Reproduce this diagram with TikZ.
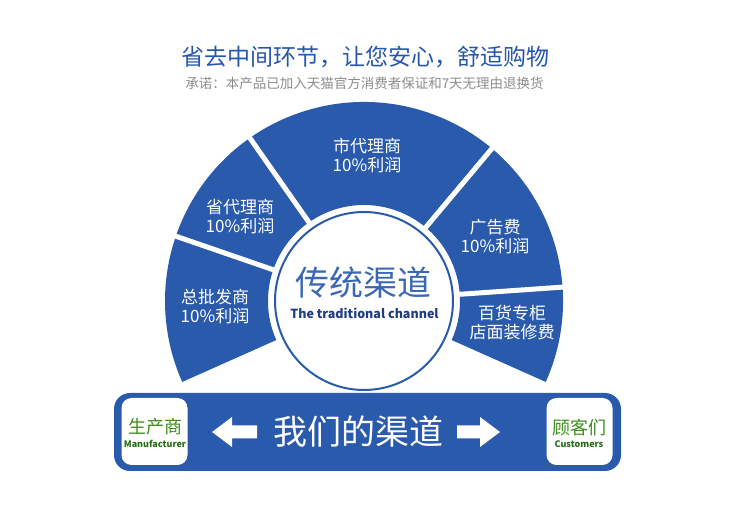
\documentclass[tikz,border=0pt]{standalone}
\usepackage{fontspec}
\setmainfont{Noto Sans CJK SC}
\usetikzlibrary{calc}
\definecolor{segblue}{RGB}{42,90,172}
\definecolor{titleblue}{RGB}{36,86,176}
\definecolor{circblue}{RGB}{58,104,180}
\definecolor{engblue}{RGB}{30,60,135}
\definecolor{subgray}{RGB}{140,140,140}
\definecolor{cngreen}{RGB}{62,140,28}
\definecolor{engreen}{RGB}{40,110,20}
\begin{document}
\begin{tikzpicture}[x=1pt,y=1pt,line cap=round,line join=round,
  segtext/.style={white,align=center,font=\fontsize{17}{19}\selectfont},
  boxcn/.style={cngreen,font=\fontsize{18}{18}\selectfont},
  boxen/.style={engreen,font=\fontsize{9}{9}\selectfont\bfseries},
  endbox/.style={fill=white,rounded corners=10,minimum width=66,minimum height=67,inner sep=0}]
  \useasboundingbox (0,0) rectangle (750,517);
  \coordinate (C) at (364,216);
  \node[titleblue,font=\fontsize{23}{23}\selectfont] (title) at (365,460) {省去中间环节，让您安心，舒适购物};
  \node[subgray,font=\fontsize{13.5}{13.5}\selectfont] (sub) at (364.5,434) {承诺：本产品已加入天猫官方消费者保证和7天无理由退换货};
  \fill[segblue] (C) ++(-24:199) arc (-24:204:199) -- ($(C)+(204:96)$) arc (204:-24:96) -- cycle;
  \foreach \a in {4,50,125,161}
    \draw[white,line width=5,line cap=butt] (C) -- ++(\a:210);
  \node[draw=segblue,line width=2,fill=white,circle,minimum size=178,inner sep=0] (ring) at (C) {};
  \node[circblue,font=\fontsize{34}{34}\selectfont] (tradcn) at (363,234) {传统渠道};
  \node[engblue,font=\fontsize{12.5}{12.5}\selectfont\bfseries] (traden) at (364.5,204) {The traditional channel};
  \node[segtext] (city) at (367,362) {市代理商\\10\%利润};
  \node[segtext] (prov) at (240,300) {省代理商\\10\%利润};
  \node[segtext] (whole) at (215,210) {总批发商\\10\%利润};
  \node[segtext] (adv) at (495,280) {广告费\\10\%利润};
  \node[segtext] (shop) at (512,194) {百货专柜\\店面装修费};
  \node[fill=segblue,rounded corners=16,minimum width=507,minimum height=78,inner sep=0] (bar) at (367.5,85) {};
  \node[endbox] (prod) at (154.5,85.5) {};
  \node[endbox] (cust) at (579.5,85.5) {};
  \node[boxcn] (prodcn) at (155,90) {生产商};
  \node[boxen] (proden) at (155,73) {Manufacturer};
  \node[boxcn] (custcn) at (579,89) {顾客们};
  \node[boxen] (custen) at (579,73) {Customers};
  \node[white,font=\fontsize{34}{34}\selectfont] (ours) at (358,85) {我们的渠道};
  \fill[white] (212,85) -- (232,100) -- (232,91.5) -- (257,91.5) -- (257,78.5) -- (232,78.5) -- (232,70) -- cycle;
  \fill[white] (500,85) -- (480,100) -- (480,91.5) -- (457,91.5) -- (457,78.5) -- (480,78.5) -- (480,70) -- cycle;
\end{tikzpicture}
\end{document}
